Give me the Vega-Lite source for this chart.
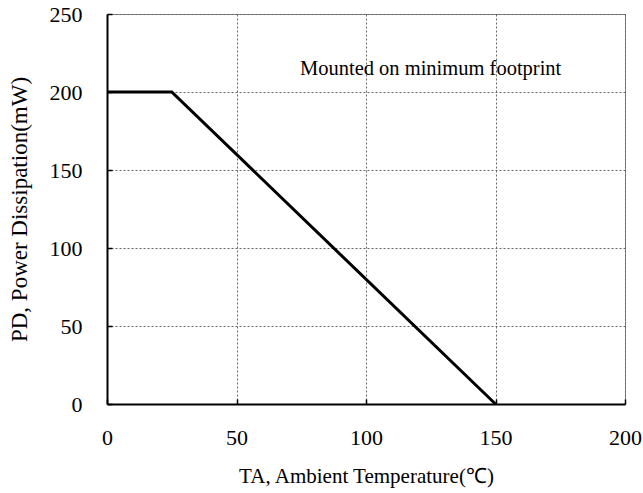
{
  "$schema": "https://vega.github.io/schema/vega-lite/v6.json",
  "autosize": "none",
  "padding": {"left": 107, "top": 14, "right": 18, "bottom": 89},
  "width": 518,
  "height": 390,
  "background": "white",
  "config": {
    "font": "Liberation Serif",
    "view": {"stroke": "#888888", "strokeWidth": 1},
    "axis": {
      "labelFont": "Liberation Serif",
      "titleFont": "Liberation Serif",
      "labelColor": "#000000",
      "titleColor": "#000000",
      "labelFontSize": 22,
      "titleFontWeight": "normal",
      "domainColor": "#000000",
      "domainWidth": 2,
      "tickColor": "#000000",
      "tickWidth": 1.5,
      "tickSize": -5,
      "grid": true,
      "gridColor": "#666666",
      "gridWidth": 1,
      "gridDash": [2, 2]
    }
  },
  "datasets": {
    "curve": [
      {"temp": 0, "power": 200},
      {"temp": 25, "power": 200},
      {"temp": 150, "power": 0}
    ],
    "note": [
      {"temp": 74.5, "power": 215, "label": "Mounted on minimum footprint"}
    ]
  },
  "layer": [
    {
      "data": {"name": "curve"},
      "mark": {"type": "line", "color": "#000000", "strokeWidth": 3},
      "encoding": {
        "x": {
          "field": "temp", "type": "quantitative",
          "scale": {"domain": [0, 200], "nice": false, "zero": false},
          "axis": {
            "values": [0, 50, 100, 150, 200],
            "title": "TA, Ambient Temperature(℃)",
            "titleFontSize": 21,
            "labelPadding": 28,
            "titlePadding": 17,
            "labelFlush": false
          }
        },
        "y": {
          "field": "power", "type": "quantitative",
          "scale": {"domain": [0, 250], "nice": false},
          "axis": {
            "values": [0, 50, 100, 150, 200, 250],
            "title": "PD, Power Dissipation(mW)",
            "titleFontSize": 23,
            "labelPadding": 30,
            "titlePadding": 18,
            "labelFlush": false
          }
        }
      }
    },
    {
      "data": {"name": "note"},
      "mark": {"type": "text", "align": "left", "baseline": "middle", "fontSize": 20.5, "font": "Liberation Serif", "color": "#000000"},
      "encoding": {
        "x": {"field": "temp", "type": "quantitative"},
        "y": {"field": "power", "type": "quantitative"},
        "text": {"field": "label"}
      }
    }
  ]
}
